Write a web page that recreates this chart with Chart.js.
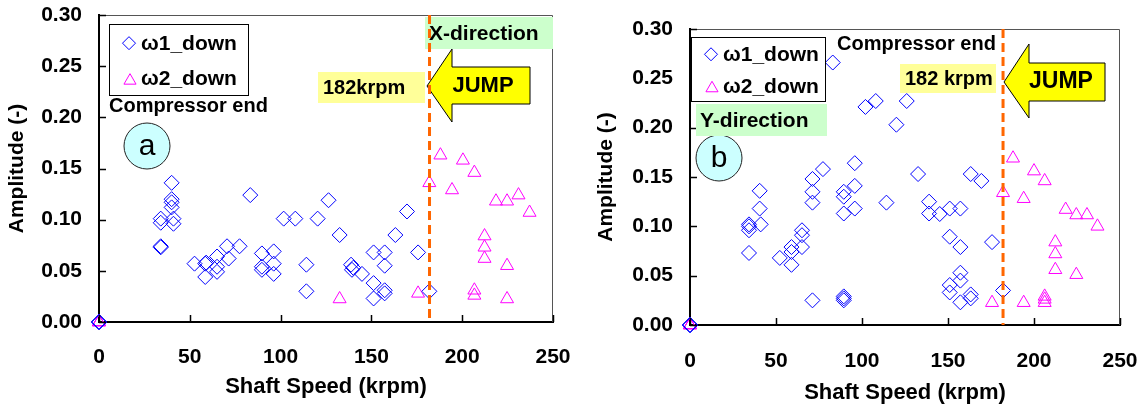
<!DOCTYPE html>
<html lang="en">
<head>
<meta charset="UTF-8">
<title>Amplitude vs Shaft Speed - X and Y direction</title>
<script src="https://cdn.jsdelivr.net/npm/chart.js"></script>
<style>
    body { margin: 0; background: #fff; }
    .panel { position: absolute; top: 0; width: 573px; height: 406px; }
    #panelA { left: 0; }
    #panelB { left: 573px; }
</style>
</head>
<body>
<div class="panel" id="panelA"><canvas id="chartA"></canvas></div>
<div class="panel" id="panelB"><canvas id="chartB"></canvas></div>

<script>
// ---- data ----
const speedTicks = [0, 50, 100, 150, 200, 250];
const ampTicks = [0, 0.05, 0.10, 0.15, 0.20, 0.25, 0.30];
const jumpSpeed = 182;

// panel a (X-direction)
const aW1Speed = [0, 0, 0, 34, 34, 34, 34, 40, 40, 40, 40, 41, 41,
    52.6, 58.5, 58.5, 59, 65, 65, 65, 70.5, 71.4, 77.4,
    83.3, 89.7, 89.7, 89.7, 96.2, 96.2, 96.2,
    101.7, 108.1, 120.4, 126.4, 132.5, 114.2, 114.2, 138.8, 139.3, 140, 144.8,
    151.2, 157.3, 157.3, 151.2, 157.3, 157.3, 151.2, 163.2, 169.6, 175.7, 181.9];
const aW1Amp = [0, 0, 0, 0.101, 0.097, 0.074, 0.073, 0.136, 0.120, 0.117, 0.112, 0.101, 0.096,
    0.057, 0.057, 0.044, 0.058, 0.064, 0.054, 0.049, 0.074, 0.062, 0.074,
    0.124, 0.067, 0.054, 0.051, 0.069, 0.057, 0.047,
    0.101, 0.101, 0.101, 0.119, 0.085, 0.056, 0.030, 0.056, 0.051, 0.053, 0.047,
    0.068, 0.068, 0.055, 0.038, 0.031, 0.028, 0.023, 0.085, 0.108, 0.068, 0.030];
const aW2Speed = [0, 0, 0, 132.5, 175.7, 181.9, 188, 194.4, 200.4, 206.7, 206.7, 206.7,
    212.3, 212.3, 212.3, 218.6, 224.7, 224.7, 224.7, 231, 237.1];
const aW2Amp = [0, 0, 0, 0.0225, 0.028, 0.136, 0.163, 0.129, 0.158, 0.146, 0.031, 0.026,
    0.084, 0.073, 0.062, 0.118, 0.118, 0.055, 0.0225, 0.124, 0.107];

// panel b (Y-direction)
const bW1Speed = [0, 0, 0, 34.3, 34.3, 34.3, 34.3, 40.5, 40.5, 41.1,
    52.2, 59, 59, 59, 65.1, 65.1, 65.1,
    71.2, 71.2, 71.2, 71.2, 77.3, 83,
    89.4, 89.4, 89.4, 89.4, 89.4, 89.4, 95.8, 95.8, 95.8,
    102, 108, 114.2, 120, 126, 132.6, 139, 139, 145.2, 151, 157.2, 151, 157.2,
    157.2, 157.2, 151, 151, 157.2, 163.2, 169.4, 163.2, 163.2, 175.6, 182];
const bW1Amp = [0, 0, 0, 0.102, 0.100, 0.096, 0.073, 0.136, 0.118, 0.102,
    0.068, 0.079, 0.074, 0.061, 0.096, 0.091, 0.079,
    0.148, 0.135, 0.124, 0.025, 0.158, 0.266,
    0.135, 0.130, 0.113, 0.029, 0.027, 0.025, 0.164, 0.141, 0.118,
    0.221, 0.227, 0.124, 0.203, 0.227, 0.153, 0.125, 0.113, 0.1125, 0.118, 0.118, 0.0895, 0.079,
    0.053, 0.045, 0.0405, 0.033, 0.023, 0.153, 0.146, 0.031, 0.027, 0.084, 0.035];
const bW2Speed = [0, 0, 0, 175.6, 182, 187.8, 194, 194, 200, 206.2, 206.2, 206.2, 206.2,
    212.4, 212.4, 212.4, 218.4, 224.6, 224.6, 230.8, 236.9];
const bW2Amp = [0, 0, 0, 0.0226, 0.134, 0.169, 0.128, 0.0226, 0.156, 0.146, 0.029, 0.026, 0.0226,
    0.084, 0.072, 0.056, 0.117, 0.1115, 0.051, 0.1115, 0.100];

const FONT = 'Liberation Sans, Arial, sans-serif';
const W1_COLOR = '#0000ff';
const W2_COLOR = '#ff00ff';

function pairs(xs, ys) {
    return xs.map((x, i) => ({ x: x, y: ys[i] }));
}

// layout / annotation positions per panel (canvas pixels)
const layoutA = {
    padLeft: 0, padRight: 20, padTop: 15,
    yWidth: 99, yTitlePad: 5, xHeight: 84, xTickPad: 23, xTitlePad: 6,
    legend: { x: 109, y: 24, w: 139, h: 71 },
    compressor: { x: 109, y: 106 },
    circle: { x: 147, y: 146, r: 23, letter: 'a' },
    krpm: { x: 318, y: 72, w: 107, h: 31, text: '182krpm' },
    dir: { x: 425, y: 17, w: 128, h: 32, text: 'X-direction' },
    arrow: { tipX: 427, tipY: 86, headX: 452, headTop: 49, headBot: 122, bodyTop: 67, bodyBot: 104, right: 530, textX: 483, size: 22 }
};
const layoutB = {
    padLeft: 0, padRight: 26, padTop: 29,
    yWidth: 117, yTitlePad: 21, xHeight: 81, xTickPad: 24, xTitlePad: 0,
    legend: { x: 118, y: 37, w: 134, h: 64 },
    compressor: { x: 264, y: 44 },
    circle: { x: 146, y: 158, r: 23, letter: 'b' },
    krpm: { x: 327, y: 64, w: 96, h: 29, text: '182 krpm' },
    dir: { x: 123, y: 104, w: 131, h: 32, text: 'Y-direction' },
    arrow: { tipX: 431, tipY: 82, headX: 456, headTop: 44, headBot: 118, bodyTop: 63, bodyBot: 101, right: 532, textX: 488, size: 23 }
};

// draws frame, inward ticks, legend, notes, arrow and jump line
const overlayPlugin = {
    id: 'overlay',
    afterDatasetsDraw(chart, args, opts) {
        const L = opts.layout;
        const ctx = chart.ctx;
        const ca = chart.chartArea;
        const xs = chart.scales.x;
        const ys = chart.scales.y;
        ctx.save();

        // top and right frame
        ctx.strokeStyle = '#555';
        ctx.lineWidth = 1;
        ctx.beginPath();
        ctx.moveTo(ca.left, ca.top + 0.5);
        ctx.lineTo(ca.right - 0.5, ca.top + 0.5);
        ctx.lineTo(ca.right - 0.5, ca.bottom);
        ctx.stroke();

        // inward tick marks
        ctx.strokeStyle = '#000';
        ctx.lineWidth = 1.5;
        ctx.beginPath();
        ampTicks.forEach(v => {
            const py = Math.round(ys.getPixelForValue(v)) + 0.5;
            ctx.moveTo(ca.left, py);
            ctx.lineTo(ca.left + 7, py);
        });
        speedTicks.forEach(v => {
            const px = Math.round(xs.getPixelForValue(v)) + 0.5;
            ctx.moveTo(px, ca.bottom);
            ctx.lineTo(px, ca.bottom - 7);
        });
        ctx.stroke();

        // legend box
        const lg = L.legend;
        ctx.fillStyle = '#fff';
        ctx.fillRect(lg.x, lg.y, lg.w, lg.h);
        ctx.strokeStyle = '#000';
        ctx.lineWidth = 1;
        ctx.strokeRect(lg.x + 0.5, lg.y + 0.5, lg.w, lg.h);
        const rowY1 = lg.y + lg.h * 0.27;
        const rowY2 = lg.y + lg.h * 0.77;
        ctx.strokeStyle = W1_COLOR;
        Chart.helpers.drawPoint(ctx, { pointStyle: 'rectRot', radius: 6.5, borderWidth: 1, rotation: 0 }, lg.x + 20, rowY1);
        ctx.strokeStyle = W2_COLOR;
        Chart.helpers.drawPoint(ctx, { pointStyle: 'triangle', radius: 7, borderWidth: 1, rotation: 0 }, lg.x + 21, rowY2 + 2);
        ctx.fillStyle = '#000';
        ctx.font = 'bold 21px ' + FONT;
        ctx.textAlign = 'left';
        ctx.textBaseline = 'middle';
        ctx.fillText(chart.data.datasets[0].label, lg.x + 32, rowY1 + 1);
        ctx.fillText(chart.data.datasets[1].label, lg.x + 32, rowY2 + 1);

        // "Compressor end"
        ctx.font = 'bold 20px ' + FONT;
        ctx.fillText('Compressor end', L.compressor.x, L.compressor.y);

        // circle label
        const c = L.circle;
        ctx.beginPath();
        ctx.arc(c.x, c.y, c.r, 0, Math.PI * 2);
        ctx.fillStyle = '#ccffff';
        ctx.fill();
        ctx.strokeStyle = '#222';
        ctx.stroke();
        ctx.fillStyle = '#000';
        ctx.font = '30px ' + FONT;
        ctx.textAlign = 'center';
        ctx.fillText(c.letter, c.x, c.y + 1);

        // 182 krpm box
        const k = L.krpm;
        ctx.fillStyle = '#ffff99';
        ctx.fillRect(k.x, k.y, k.w, k.h);
        ctx.fillStyle = '#000';
        ctx.font = 'bold 20px ' + FONT;
        ctx.textAlign = 'left';
        ctx.fillText(k.text, k.x + 5, k.y + k.h / 2 + 1);

        // direction box
        const d = L.dir;
        ctx.fillStyle = '#ccffcc';
        ctx.fillRect(d.x, d.y, d.w, d.h);
        ctx.fillStyle = '#000';
        ctx.font = 'bold 21px ' + FONT;
        ctx.fillText(d.text, d.x + 4, d.y + d.h / 2 + 1);

        // JUMP arrow
        const a = L.arrow;
        ctx.beginPath();
        ctx.moveTo(a.tipX, a.tipY);
        ctx.lineTo(a.headX, a.headTop);
        ctx.lineTo(a.headX, a.bodyTop);
        ctx.lineTo(a.right, a.bodyTop);
        ctx.lineTo(a.right, a.bodyBot);
        ctx.lineTo(a.headX, a.bodyBot);
        ctx.lineTo(a.headX, a.headBot);
        ctx.closePath();
        ctx.fillStyle = '#ffff00';
        ctx.fill();
        ctx.strokeStyle = '#000';
        ctx.lineWidth = 1;
        ctx.stroke();
        ctx.fillStyle = '#000';
        ctx.font = 'bold ' + a.size + 'px ' + FONT;
        ctx.textAlign = 'center';
        ctx.fillText('JUMP', a.textX, (a.bodyTop + a.bodyBot) / 2);

        // jump line at 182 krpm
        const jx = xs.getPixelForValue(jumpSpeed);
        ctx.beginPath();
        ctx.setLineDash([9, 5]);
        ctx.strokeStyle = '#ff6600';
        ctx.lineWidth = 3;
        ctx.moveTo(jx, ca.top);
        ctx.lineTo(jx, ca.bottom);
        ctx.stroke();

        ctx.restore();
    }
};

function makePanel(canvasId, w1, w2, L) {
    const ctx = document.getElementById(canvasId).getContext('2d');
    return new Chart(ctx, {
        type: 'scatter',
        data: {
            datasets: [
                {
                    label: 'ω1_down',
                    data: w1,
                    pointStyle: 'rectRot',
                    pointRadius: 7.5,
                    pointBorderWidth: 1,
                    borderColor: W1_COLOR,
                    backgroundColor: 'rgba(0,0,0,0)',
                    clip: false
                },
                {
                    label: 'ω2_down',
                    data: w2,
                    pointStyle: 'triangle',
                    pointRadius: 7.5,
                    pointBorderWidth: 1,
                    borderColor: W2_COLOR,
                    backgroundColor: 'rgba(0,0,0,0)',
                    clip: false
                }
            ]
        },
        options: {
            responsive: true,
            maintainAspectRatio: false,
            animation: false,
            layout: { padding: { left: L.padLeft, right: L.padRight, top: L.padTop, bottom: 0 } },
            scales: {
                x: {
                    type: 'linear',
                    min: 0,
                    max: 250,
                    afterBuildTicks: s => { s.ticks = speedTicks.map(v => ({ value: v })); },
                    afterFit: s => {
                        s.height = L.xHeight;
                        s.paddingLeft = 0;
                        s.paddingRight = 0;
                    },
                    grid: { display: false, drawTicks: false },
                    border: { display: true, color: '#000', width: 2 },
                    ticks: {
                        color: '#000',
                        padding: L.xTickPad,
                        maxRotation: 0,
                        autoSkip: false,
                        font: { family: FONT, size: 21, weight: 'bold' }
                    },
                    title: {
                        display: true,
                        text: 'Shaft Speed (krpm)',
                        color: '#000',
                        font: { family: FONT, size: 22, weight: 'bold' },
                        padding: { top: 0, bottom: L.xTitlePad }
                    }
                },
                y: {
                    min: 0,
                    max: 0.30,
                    afterBuildTicks: s => { s.ticks = ampTicks.map(v => ({ value: v })); },
                    afterFit: s => {
                        s.width = L.yWidth;
                        s.paddingTop = 0;
                        s.paddingBottom = 0;
                    },
                    grid: { display: false, drawTicks: false },
                    border: { display: true, color: '#000', width: 2 },
                    ticks: {
                        color: '#000',
                        padding: 17,
                        font: { family: FONT, size: 21, weight: 'bold' },
                        callback: v => v.toFixed(2)
                    },
                    title: {
                        display: true,
                        text: 'Amplitude (-)',
                        color: '#000',
                        font: { family: FONT, size: 21, weight: 'bold' },
                        padding: { top: L.yTitlePad, bottom: 0 }
                    }
                }
            },
            plugins: {
                legend: { display: false },
                tooltip: { enabled: false },
                overlay: { layout: L }
            }
        },
        plugins: [overlayPlugin]
    });
}

makePanel('chartA', pairs(aW1Speed, aW1Amp), pairs(aW2Speed, aW2Amp), layoutA);
makePanel('chartB', pairs(bW1Speed, bW1Amp), pairs(bW2Speed, bW2Amp), layoutB);
</script>
</body>
</html>
